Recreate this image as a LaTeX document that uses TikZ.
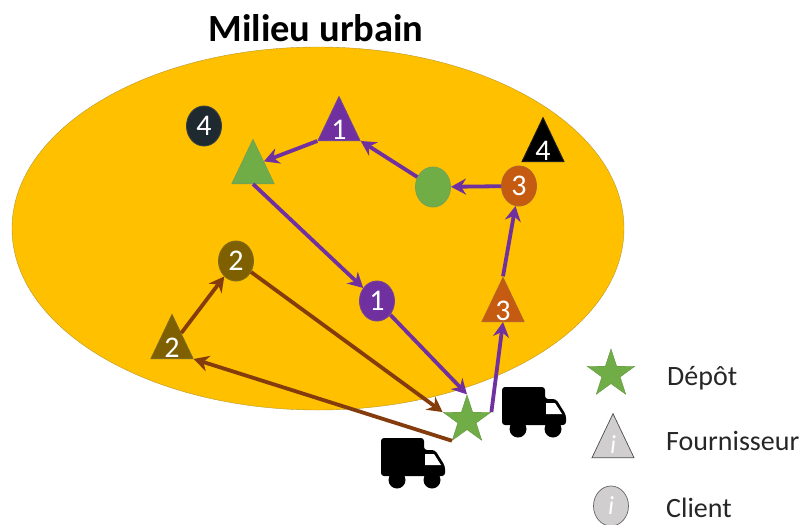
\documentclass[tikz,border=0pt]{standalone}
\usepackage{fontspec}
\setmainfont{Carlito}
\usetikzlibrary{shapes.geometric,arrows.meta}

\definecolor{zonefill}{HTML}{FFC000}
\definecolor{zoneedge}{HTML}{B8962A}
\definecolor{routeviolet}{HTML}{7030A0}
\definecolor{routebrown}{HTML}{843C0C}
\definecolor{depotgreen}{HTML}{70AD47}
\definecolor{olivebrown}{HTML}{7F6000}
\definecolor{rust}{HTML}{C55A11}
\definecolor{darkslate}{HTML}{1F2A30}
\definecolor{legendgrey}{HTML}{D0CECE}

\tikzset{
  digit/.style={text=white,font=\fontsize{30}{30}\selectfont,inner sep=0pt},
  client/.style={draw=#1!75!gray,fill=#1,ellipse,minimum width=35pt,minimum height=40pt,line width=0.9pt,digit},
  supplier/.style={draw=#1!75!gray,fill=#1,isosceles triangle,isosceles triangle stretches,shape border rotate=90,
    minimum width=42pt,minimum height=44pt,anchor=lower side,line width=0.9pt,digit,text height=24pt,text depth=0pt},
  depot/.style={star,star points=5,star point ratio=2.6,fill=depotgreen,draw=depotgreen!85!black,minimum size=50pt,inner sep=0pt},
  route/.style={line width=3.8pt,-{Stealth[length=15pt,width=16pt]}},
  legendtext/.style={font=\fontsize{28}{28}\selectfont,anchor=west,inner sep=0pt,text=black!85},
  pics/truck/.style={code={
    \fill[black,rounded corners=3pt] (0,0) -- (43,0) -- (43,12) -- (54,12) -- (64,28) -- (64,38) -- (0,38) -- cycle;
    \fill[white] (44,16) -- (53,16) -- (60,27) -- (44,27) -- cycle;
    \fill[black] (16,42) circle (8.5) (51,42) circle (8.5);
  }}
}

\begin{document}
\begin{tikzpicture}[x=1pt,y=-1pt]
\useasboundingbox (0,0) rectangle (804,525);

\node[draw=zoneedge,fill=zonefill,ellipse,minimum width=612pt,minimum height=363pt,inner sep=0pt] (zone) at (318,228.5) {};
\node[font=\bfseries\fontsize{38.5}{38.5}\selectfont,inner sep=0pt] (title) at (316,28) {Milieu urbain};

\node[depot] (depot) at (467,420) {};

\node[supplier=routeviolet] (sv) at (339,141) {1};
\node[supplier=depotgreen] (sg) at (253,184) {};
\node[supplier=olivebrown] (sb) at (172,359) {2};
\node[supplier=rust] (sr) at (503,322) {3};
\node[supplier=black] (sk) at (543,162) {4};

\node[client=routeviolet] (cv) at (377,301) {1};
\node[client=olivebrown] (cb) at (236,261) {2};
\node[client=rust] (cr) at (519,186) {3};
\node[client=darkslate] (ck) at (204,126) {4};
\node[client=depotgreen] (cg) at (433,187) {};

% tournee violette
\draw[route,routeviolet] (depot.outer point 5) -- (sr.lower side);
\draw[route,routeviolet] (sr.apex) -- (cr);
\draw[route,routeviolet] (cr) -- (cg);
\draw[route,routeviolet] (cg) -- (sv.right corner);
\draw[route,routeviolet] (sv.left corner) -- (sg);
\draw[route,routeviolet] (sg.lower side) -- (cv);
\draw[route,routeviolet] (cv) -- (depot.outer point 1);

% tournee marron
\draw[route,routebrown] (depot.outer point 3) -- (sb.right corner);
\draw[route,routebrown] (sb) -- (cb);
\draw[route,routebrown] (cb) -- (depot.outer point 2);

\pic at (502,387) {truck};
\pic at (381,438) {truck};

% legende
\node[depot] (legdepot) at (611,374) {};
\node[supplier=legendgrey,draw=black!70,line width=0.7pt,font=\itshape\fontsize{26}{26}\selectfont] (legsupplier) at (613,458) {i};
\node[client=legendgrey,draw=black!60,line width=0.7pt,font=\itshape\fontsize{26}{26}\selectfont] (legclient) at (611,506) {i};
\node[legendtext] (txtdepot) at (667,378) {Dépôt};
\node[legendtext] (txtsupplier) at (666,441) {Fournisseur};
\node[legendtext] (txtclient) at (666,508) {Client};
\end{tikzpicture}
\end{document}
